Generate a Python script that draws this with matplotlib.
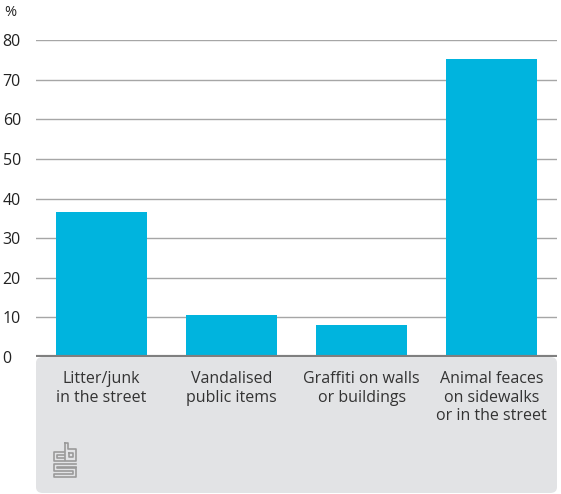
import matplotlib.pyplot as plt
from matplotlib.patches import FancyBboxPatch

categories = ["Litter/junk\nin the street", "Vandalised\npublic items",
              "Graffiti on walls\nor buildings", "Animal feaces\non sidewalks\nor in the street"]
values = [36.7, 10.6, 8.1, 75.3]
yticks = [0, 10, 20, 30, 40, 50, 60, 70, 80]

plt.rcParams['font.family'] = ['Open Sans', 'DejaVu Sans']

W, H = 561, 494
fig = plt.figure(figsize=(W / 100, H / 100), dpi=100)

# grey panel under the axis
panel = FancyBboxPatch((36 / W, 1 / H), 521 / W, (H - 357 - 1) / H,
                       boxstyle="round,pad=0,rounding_size=0.012",
                       transform=fig.transFigure, facecolor="#E2E3E5",
                       edgecolor="none", zorder=-1)
fig.patches.append(panel)

ax = fig.add_axes([36 / W, (H - 357) / H, 521 / W, 317 / H])
ax.set_facecolor("none")
ax.bar(range(len(values)), values, width=0.7, color="#00B4DE", zorder=2)
ax.set_xlim(-0.5, 3.5)
ax.set_ylim(0, 80)
ax.set_yticks(yticks)
ax.grid(axis="y", color="#A6A6A6", linewidth=1, zorder=1)
ax.set_axisbelow(True)
for s in ax.spines.values():
    s.set_visible(False)
ax.axhline(0, color="#7F7F7F", linewidth=3, zorder=3)

ax.tick_params(axis="y", length=0, pad=24, labelsize=11.5, labelcolor="#222222")
for lab in ax.get_yticklabels():
    lab.set_ha("left")
ax.set_xticks(range(len(categories)))
ax.set_xticklabels(categories, fontsize=11.5, color="#333333", linespacing=1.22)
ax.tick_params(axis="x", length=0, pad=10)

fig.text(4 / W, 1 - 12 / H, "%", fontsize=10.5, color="#222222", va="center")

# simple cbs logo
lc = "#9A9A9A"
lx = lambda x: x / W
ly = lambda y: 1 - y / H
segs = [
    [(64, 452), (54, 452), (54, 461), (64, 461)],
    [(64, 455), (57, 455), (57, 458), (64, 458)],
    [(65, 443), (65, 461), (76, 461), (76, 449), (68, 449), (68, 443), (65, 443)],
    [(69, 453), (73, 453), (73, 457), (69, 457), (69, 453)],
    [(76, 464), (54, 464), (54, 471), (73, 471), (73, 474), (54, 474), (54, 477), (76, 477), (76, 468), (57, 468), (57, 467), (76, 467)],
]
for seg in segs:
    xs = [lx(p[0]) for p in seg]
    ys = [ly(p[1]) for p in seg]
    fig.add_artist(plt.Line2D(xs, ys, color=lc, linewidth=1.2, transform=fig.transFigure))

fig.savefig("out.png", dpi=100)
